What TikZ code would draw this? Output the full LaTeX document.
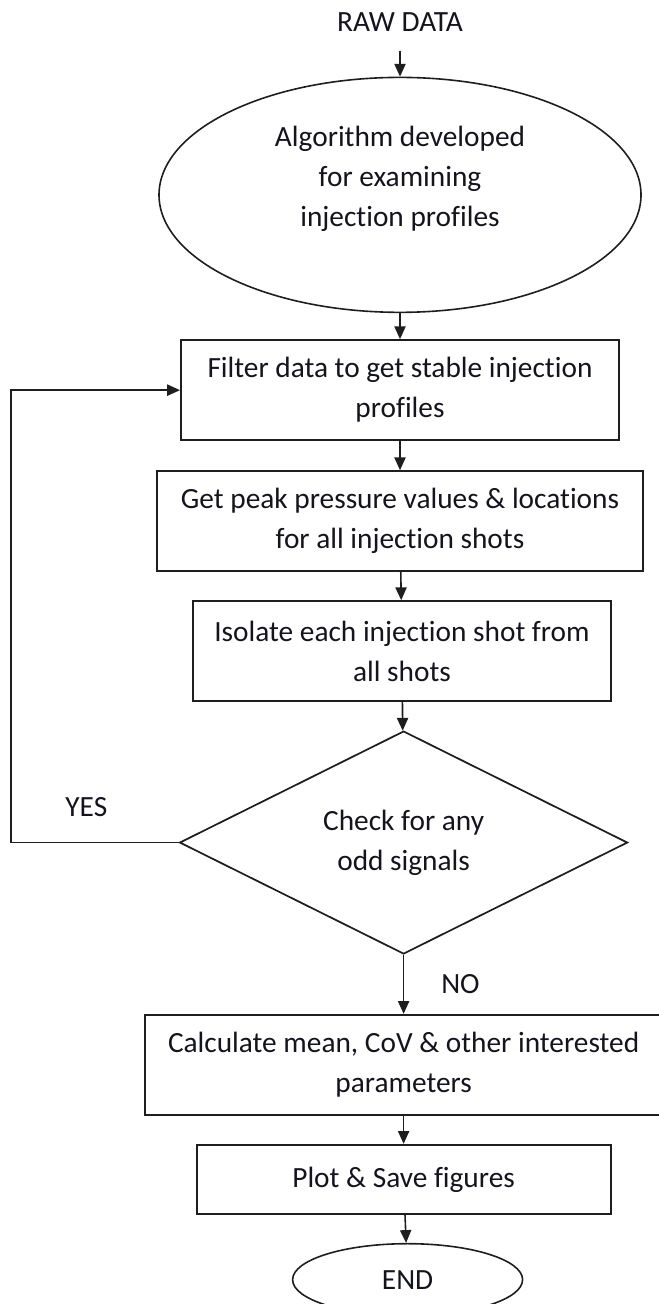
\documentclass[tikz,border=0pt]{standalone}
\usepackage{fontspec}
\setmainfont{Carlito}[Ligatures=NoCommon]
\usepackage{tikz}
\usetikzlibrary{
  shapes.geometric,
  arrows.meta,
  positioning
}
\definecolor{linecolor}{RGB}{30, 30, 30}
\definecolor{textcolor}{RGB}{20, 20, 30}
\tikzset{
blocktext/.style={
  align=center,
  font=\fontsize{11}{15}\selectfont,
  text=textcolor
}
}

\begin{document}
\begin{tikzpicture}[
    node distance=10.5pt,
    stepbox/.style={
      rectangle, draw=linecolor, line width=0.75pt,
      minimum height=37.5pt, blocktext
    },
    ovalbox/.style={
      ellipse, draw=linecolor, line width=0.6pt, blocktext
    },
    decisionbox/.style={
      diamond, draw=linecolor, line width=0.65pt, shape aspect=2,
      minimum width=168pt, minimum height=83.6pt, inner sep=1pt, blocktext
    },
    myarrow/.style={
      -{Triangle[length=4.8pt,width=4.2pt]},
      line width=0.6pt, draw=linecolor
    }
  ]
    \useasboundingbox (0,0) rectangle (247.1pt,-489pt);

    % Input
    \node[blocktext, inner ysep=7pt] (raw) at (150pt,-8.25pt) {RAW DATA};
    \node[ovalbox, below=9.75pt of raw, minimum width=180.75pt, minimum height=88.1pt,
      label={[blocktext, yshift=6pt]center:Algorithm developed\\for examining\\injection profiles}] (algo) {};

    % Processing steps
    \node[stepbox, below=9.75pt of algo, minimum width=164.25pt] (filter) {Filter data to get stable injection\\profiles};
    \node[stepbox, below=10.9pt of filter, minimum width=181.9pt] (peaks) {Get peak pressure values \& locations\\for all injection shots};
    \node[stepbox, below=of peaks, xshift=0.75pt, minimum width=156.4pt] (isolate) {Isolate each injection shot from\\all shots};

    % Decision
    \node[decisionbox, below=of isolate, xshift=0.6pt] (check) {Check for any\\odd signals};

    % Output
    \node[stepbox, below=22.1pt of check, minimum width=194.25pt] (calc) {Calculate mean, CoV \& other interested\\parameters};
    \node[stepbox, below=of calc, minimum width=155.25pt, minimum height=25.9pt] (plot) {Plot \& Save figures};
    \node[ovalbox, below=of plot, xshift=1.5pt, minimum width=86.25pt, minimum height=27pt, inner sep=0pt] (finish) {END};

    % Arrows down the main line
    \draw[myarrow] (raw) -- (algo);
    \draw[myarrow] (algo) -- (filter);
    \draw[myarrow] (filter) -- (peaks);
    \draw[myarrow] (peaks) -- (isolate);
    \draw[myarrow] (isolate) -- (check);
    \draw[myarrow] (check) -- node[blocktext, right=10.5pt] {NO} (calc);
    \draw[myarrow] (calc) -- (plot);
    \draw[myarrow] (plot) -- (finish);

    % Loop back
    \draw[myarrow] (check.west) -- node[blocktext, above=6pt, pos=0.55] {YES} ++(-63pt,0) |- (filter.west);

  \end{tikzpicture}
\end{document}
